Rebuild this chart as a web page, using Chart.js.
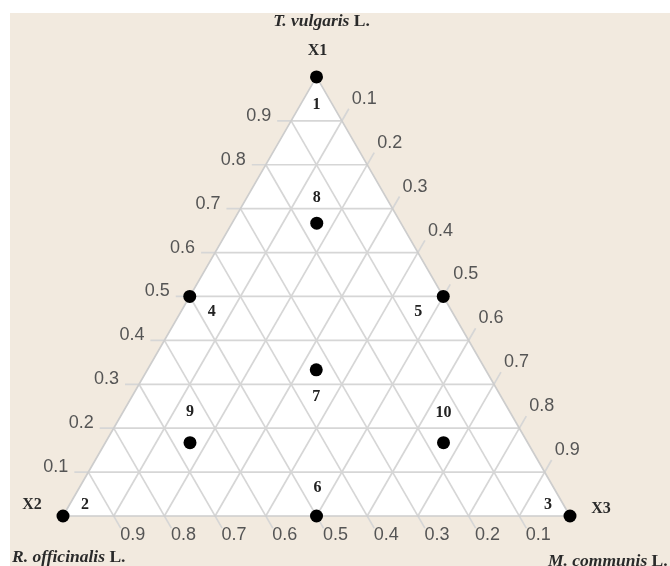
<!DOCTYPE html>
<html>
<head>
<meta charset="utf-8">
<script src="https://cdn.jsdelivr.net/npm/chart.js@4"></script>
<style>
html,body{margin:0;padding:0;background:#fff;}
canvas{display:block;}
</style>
</head>
<body>
<canvas id="c" width="670" height="566"></canvas>
<script>
// ---- data ----
const pointIds = ['1','2','3','4','5','6','7','8','9','10'];
const x1Values = [1, 0, 0, 0.5, 0.5, 0, 0.333, 0.667, 0.167, 0.167]; // T. vulgaris
const x2Values = [0, 1, 0, 0.5, 0, 0.5, 0.333, 0.167, 0.667, 0.167]; // R. officinalis
const x3Values = [0, 0, 1, 0, 0.5, 0.5, 0.333, 0.167, 0.167, 0.667]; // M. communis
const gridValues = [0.1, 0.2, 0.3, 0.4, 0.5, 0.6, 0.7, 0.8, 0.9];
const tickLabels = ['0.1','0.2','0.3','0.4','0.5','0.6','0.7','0.8','0.9'];
const vertexCodes = ['X1', 'X2', 'X3'];
const vertexNames = ['T. vulgaris', 'R. officinalis', 'M. communis'];
const vertexSuffix = ['L.', 'L.', 'L.'];

// ---- style / placement (pixels) ----
const labelOffsets = [[0,28],[22,-11],[-22,-11],[22,15],[-25,15],[1,-28],[0,27],[0,-25],[0,-31],[0,-30]];
const SQ = Math.sqrt(3) / 2;
function cart(a, b, c) { return { x: c + a / 2, y: a * SQ }; }

const pointData = pointIds.map((id, i) => cart(x1Values[i], x2Values[i], x3Values[i]));

const ternaryPlugin = {
  id: 'ternary',
  beforeDraw(chart) {
    const ctx = chart.ctx;
    ctx.save();
    ctx.fillStyle = '#ffffff';
    ctx.fillRect(0, 0, chart.width, chart.height);
    ctx.fillStyle = '#f2eadf';
    ctx.fillRect(10, 13, chart.width - 10, chart.height - 13);
    ctx.restore();
  },
  beforeDatasetsDraw(chart) {
    const ctx = chart.ctx, xs = chart.scales.x, ys = chart.scales.y;
    const P = (a, b, c) => { const q = cart(a, b, c); return [xs.getPixelForValue(q.x), ys.getPixelForValue(q.y)]; };
    const A = P(1,0,0), B = P(0,1,0), C = P(0,0,1);
    ctx.save();
    ctx.fillStyle = '#ffffff';
    ctx.beginPath(); ctx.moveTo(...A); ctx.lineTo(...B); ctx.lineTo(...C); ctx.closePath(); ctx.fill();
    ctx.strokeStyle = '#d6d6d6';
    ctx.lineWidth = 1.7;
    const T = 14;
    gridValues.forEach(v => {
      // x1 = v (horizontal), with tick to the left
      let p = P(v, 1 - v, 0), q = P(v, 0, 1 - v);
      ctx.beginPath(); ctx.moveTo(p[0] - T, p[1]); ctx.lineTo(...q); ctx.stroke();
      // x2 = v (parallel to right edge), tick below base
      p = P(1 - v, v, 0); q = P(0, v, 1 - v);
      ctx.beginPath(); ctx.moveTo(...p); ctx.lineTo(q[0] + T * 0.5, q[1] + T * SQ); ctx.stroke();
      // x3 = v (parallel to left edge), tick beyond right edge
      p = P(1 - v, 0, v); q = P(0, 1 - v, v);
      ctx.beginPath(); ctx.moveTo(p[0] + T * 0.5, p[1] - T * SQ); ctx.lineTo(...q); ctx.stroke();
    });
    ctx.strokeStyle = '#cdcdcd';
    ctx.beginPath(); ctx.moveTo(...A); ctx.lineTo(...B); ctx.lineTo(...C); ctx.closePath(); ctx.stroke();

    // tick labels
    ctx.fillStyle = '#555555';
    ctx.font = '18px "Liberation Sans", Arial, sans-serif';
    ctx.textBaseline = 'middle';
    gridValues.forEach((v, i) => {
      let p = P(v, 1 - v, 0);
      ctx.textAlign = 'right';
      ctx.fillText(tickLabels[i], p[0] - 20, p[1] - 5);
      p = P(1 - v, 0, v);
      ctx.textAlign = 'left';
      ctx.fillText(tickLabels[i], p[0] + 10, p[1] - 22);
      p = P(0, v, 1 - v);
      ctx.textAlign = 'center';
      ctx.fillText(tickLabels[i], p[0] + 19, p[1] + 19);
    });
    ctx.restore();
  },
  afterDatasetsDraw(chart) {
    const ctx = chart.ctx, xs = chart.scales.x, ys = chart.scales.y;
    ctx.save();
    ctx.fillStyle = '#222222';
    ctx.font = 'bold 16px "Liberation Serif", "Times New Roman", serif';
    ctx.textAlign = 'center';
    ctx.textBaseline = 'middle';
    pointData.forEach((pt, i) => {
      const px = xs.getPixelForValue(pt.x), py = ys.getPixelForValue(pt.y);
      ctx.fillText(pointIds[i], px + labelOffsets[i][0], py + labelOffsets[i][1]);
    });

    const P = (a, b, c) => { const q = cart(a, b, c); return [xs.getPixelForValue(q.x), ys.getPixelForValue(q.y)]; };
    const A = P(1,0,0), B = P(0,1,0), C = P(0,0,1);
    ctx.fillStyle = '#2a2a2a';
    ctx.font = 'bold 16px "Liberation Serif", "Times New Roman", serif';
    ctx.fillText(vertexCodes[0], A[0] + 1, A[1] - 26);
    ctx.fillText(vertexCodes[1], B[0] - 31, B[1] - 11);
    ctx.fillText(vertexCodes[2], C[0] + 31, C[1] - 7);

    function species(name, suffix, x, y, align) {
      const fi = 'italic bold 17.5px "Liberation Serif", "Times New Roman", serif';
      const fb = 'bold 17.5px "Liberation Serif", "Times New Roman", serif';
      ctx.font = fi; const w1 = ctx.measureText(name + ' ').width;
      ctx.font = fb; const w2 = ctx.measureText(suffix).width;
      let left = align === 'center' ? x - (w1 + w2) / 2 : x;
      ctx.textAlign = 'left';
      ctx.font = fi; ctx.fillText(name + ' ', left, y);
      ctx.font = fb; ctx.fillText(suffix, left + w1, y);
    }
    species(vertexNames[0], vertexSuffix[0], A[0] + 5, A[1] - 55, 'center');
    species(vertexNames[1], vertexSuffix[1], 12, B[1] + 41, 'left');
    species(vertexNames[2], vertexSuffix[2], C[0] - 22, C[1] + 45, 'left');
    ctx.restore();
  }
};

new Chart(document.getElementById('c'), {
  type: 'scatter',
  data: {
    datasets: [{
      data: pointData,
      pointRadius: 6.5,
      pointHoverRadius: 6.5,
      pointBackgroundColor: '#000000',
      pointBorderColor: '#000000',
      pointBorderWidth: 0,
      clip: false
    }]
  },
  options: {
    responsive: false,
    animation: false,
    events: [],
    layout: { padding: 0, autoPadding: false },
    plugins: { legend: { display: false }, tooltip: { enabled: false } },
    scales: {
      x: { type: 'linear', display: false, min: -63 / 507, max: 607 / 507 },
      y: { type: 'linear', display: false, min: -50 / 507, max: 516 / 507 }
    }
  },
  plugins: [ternaryPlugin]
});
</script>
</body>
</html>
